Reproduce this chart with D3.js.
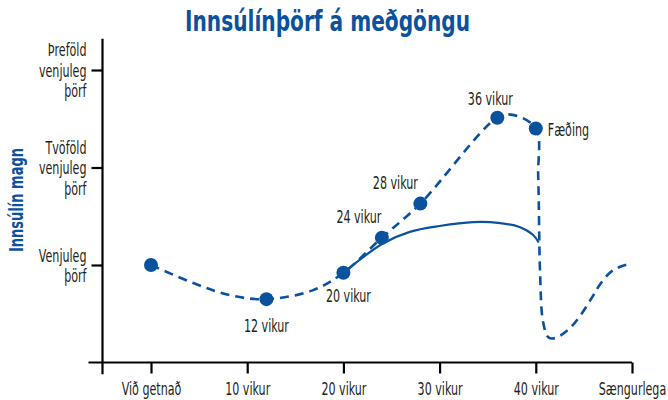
<!DOCTYPE html>
<html>
<head>
<meta charset="utf-8">
<script src="https://cdn.jsdelivr.net/npm/d3@7"></script>
<style>
  html, body { margin: 0; padding: 0; background: #fff; }
  svg text { font-family: "DejaVu Sans Condensed", "DejaVu Sans", sans-serif; }
</style>
</head>
<body>
<svg id="chart" width="668" height="400"></svg>
<script>
// ---- data ----
const titleText = "Innsúlínþörf á meðgöngu";
const yTitle = "Innsúlín magn";
const xTickValues = [0, 10, 20, 30, 40, 50];
const xTickLabels = ["Við getnað", "10 vikur", "20 vikur", "30 vikur", "40 vikur", "Sængurlega"];
const yTickValues = [1, 2, 3];
const yTickLabels = [["Venjuleg", "þörf"], ["Tvöföld", "venjuleg", "þörf"], ["Þreföld", "venjuleg", "þörf"]];

// milestone points (weeks, insulin need relative to normal)
const pointWeeks  = [0, 12, 20, 24, 28, 36, 40];
const pointLevels = [1.00, 0.65, 0.92, 1.28, 1.63, 2.51, 2.40];
const pointLabels = ["", "12 vikur", "20 vikur", "24 vikur", "28 vikur", "36 vikur", "Fæðing"];

// dashed curve
const dashedWeeks  = [0, 4.4, 8.2, 12, 16.8, 20, 24, 28, 36, 37.6, 40, 40.25, 40.45, 40.75, 41.3, 42.0, 43.3, 44.4, 45.8, 46.6, 47.7, 48.7, 50];
const dashedLevels = [1.00, 0.815, 0.69, 0.65, 0.74, 0.92, 1.28, 1.63, 2.51, 2.54, 2.40, 1.90, 0.90, 0.42, 0.26, 0.25, 0.33, 0.45, 0.66, 0.79, 0.92, 0.98, 1.02];

// solid curve
const solidWeeks  = [20, 24.1, 26.9, 30, 33.5, 36.3, 38.3, 39.7, 40.3];
const solidLevels = [0.92, 1.22, 1.34, 1.40, 1.44, 1.43, 1.39, 1.31, 1.23];

// ---- styling / layout ----
const BLUE = "#0b529e";
const INK = "#231f20";
const FS = 18;
const labelOffsets = {
  "12 vikur": [0, 27, "middle"],
  "20 vikur": [5, 23, "middle"],
  "24 vikur": [-23, -21, "middle"],
  "28 vikur": [-25, -21, "middle"],
  "36 vikur": [-7, -19, "middle"],
  "Fæðing":   [12, 1, "start"]
};

const svg = d3.select("#chart");
const x = d3.scaleLinear().domain([0, 50]).range([151, 632]);
const y = d3.scaleLinear().domain([0, 3]).range([362.5, 70]);

// measure condense factor for body text
const probe = svg.append("text").attr("font-size", FS).text("12 vikur");
const bodyFactor = 45 / probe.node().getComputedTextLength();
probe.remove();
function condense(sel, factor) {
  sel.each(function() {
    const L = this.getComputedTextLength();
    d3.select(this).attr("textLength", L * factor).attr("lengthAdjust", "spacingAndGlyphs");
  });
}

// title
const title = svg.append("text")
  .attr("x", 327.5).attr("y", 31)
  .attr("text-anchor", "middle")
  .attr("fill", BLUE)
  .attr("font-size", 28)
  .attr("font-weight", "bold")
  .text(titleText);
condense(title, 285 / title.node().getComputedTextLength());

// y title
const yt = svg.append("text")
  .attr("transform", "translate(23,200) rotate(-90)")
  .attr("text-anchor", "middle")
  .attr("fill", BLUE)
  .attr("font-size", 20)
  .attr("font-weight", "bold")
  .text(yTitle);
condense(yt, 104 / yt.node().getComputedTextLength());

// axes lines (crossing)
const yAxisX = 102.5;
const axisG = svg.append("g").attr("stroke", "#000").attr("stroke-width", 2.2);
axisG.append("line")
  .attr("x1", yAxisX).attr("x2", yAxisX)
  .attr("y1", y(3.32)).attr("y2", y(-0.12));
axisG.append("line")
  .attr("x1", x(-6.5)).attr("x2", x(50))
  .attr("y1", y(0)).attr("y2", y(0));

// x axis ticks & labels
const xAxis = d3.axisBottom(x)
  .tickValues(xTickValues)
  .tickSize(11)
  .tickSizeOuter(0)
  .tickPadding(9)
  .tickFormat((d, i) => xTickLabels[i]);
const gx = svg.append("g").attr("transform", `translate(0,${y(0)})`).call(xAxis);
gx.select(".domain").remove();
gx.selectAll(".tick line").attr("stroke", "#000").attr("stroke-width", 2.2);
gx.selectAll(".tick text").attr("fill", INK).attr("font-size", FS)
  .style("font-family", '"DejaVu Sans Condensed", "DejaVu Sans", sans-serif');
condense(gx.selectAll(".tick text"), bodyFactor);

// y axis ticks & labels
const yAxis = d3.axisLeft(y)
  .tickValues(yTickValues)
  .tickSize(11)
  .tickSizeOuter(0)
  .tickFormat(() => "");
const gy = svg.append("g").attr("transform", `translate(${yAxisX},0)`).call(yAxis);
gy.select(".domain").remove();
gy.selectAll(".tick text").remove();
gy.selectAll(".tick line").attr("stroke", "#000").attr("stroke-width", 2.2);
gy.selectAll(".tick").each(function(d, i) {
  const lines = yTickLabels[i];
  const lh = 20.5;
  const start = -((lines.length - 1) / 2) * lh;
  const g = d3.select(this);
  lines.forEach((ln, j) => {
    const t = g.append("text")
      .attr("x", -16)
      .attr("y", start + j * lh)
      .attr("dy", "0.35em")
      .attr("text-anchor", "end")
      .attr("fill", INK)
      .attr("font-size", FS)
      .text(ln);
    condense(t, bodyFactor);
  });
});

// curves
const dashedData = dashedWeeks.map((w, i) => [w, dashedLevels[i]]);
const solidData = solidWeeks.map((w, i) => [w, solidLevels[i]]);
const line = d3.line()
  .x(d => x(d[0])).y(d => y(d[1]))
  .curve(d3.curveCatmullRom.alpha(0.5));

svg.append("path")
  .attr("d", line(dashedData))
  .attr("fill", "none")
  .attr("stroke", BLUE)
  .attr("stroke-width", 2.6)
  .attr("stroke-dasharray", "9,6");

svg.append("path")
  .attr("d", line(solidData))
  .attr("fill", "none")
  .attr("stroke", BLUE)
  .attr("stroke-width", 2.2);

// points
const pts = pointWeeks.map((w, i) => ({ w, v: pointLevels[i], label: pointLabels[i] }));
svg.append("g").selectAll("circle").data(pts).join("circle")
  .attr("cx", d => x(d.w)).attr("cy", d => y(d.v))
  .attr("r", 7)
  .attr("fill", BLUE);

const lbl = svg.append("g").selectAll("text").data(pts.filter(d => d.label)).join("text")
  .attr("x", d => x(d.w) + labelOffsets[d.label][0])
  .attr("y", d => y(d.v) + labelOffsets[d.label][1])
  .attr("dy", "0.35em")
  .attr("text-anchor", d => labelOffsets[d.label][2])
  .attr("fill", INK)
  .attr("font-size", FS)
  .text(d => d.label);
condense(lbl, bodyFactor);
</script>
</body>
</html>
